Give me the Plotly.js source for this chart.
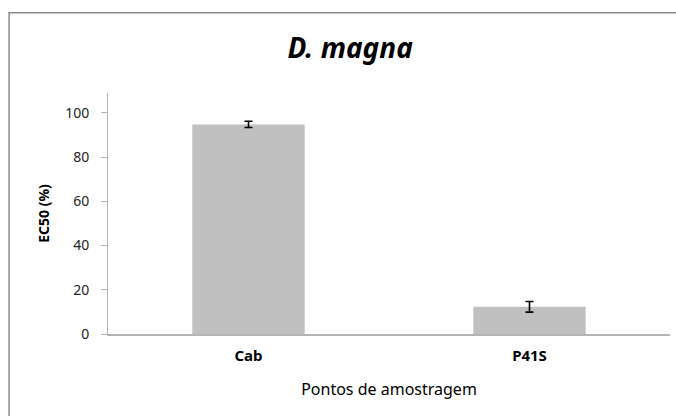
<!DOCTYPE html>
<html>
<head>
<meta charset="utf-8">
<script src="https://cdn.plot.ly/plotly-3.0.1.min.js"></script>
<style>
html,body{margin:0;padding:0;background:#fff;}
#chart{width:676px;height:416px;}
</style>
</head>
<body>
<div id="chart"></div>
<script>
const categories = ["Cab", "P41S"];
const ec50 = [94.8, 12.3];
const ec50Err = [1.4, 2.4];
const yTicks = [0, 20, 40, 60, 80, 100];

const trace = {
  type: "bar",
  x: categories,
  y: ec50,
  width: 0.4,
  marker: {color: "#c0c0c0", line: {width: 0}},
  error_y: {type: "data", array: ec50Err, visible: true, color: "#000000", thickness: 1.6, width: 4},
  hoverinfo: "none"
};

const font = "Noto Sans, Open Sans, sans-serif";
const layout = {
  width: 676, height: 416,
  margin: {l: 108, r: 6, t: 93, b: 82},
  paper_bgcolor: "#ffffff",
  plot_bgcolor: "#ffffff",
  showlegend: false,
  title: {text: "<b><i>D. magna</i></b>", font: {family: font, size: 28, color: "#000"}, x: 0.518, xanchor: "center", xref: "container", y: 0.883, yanchor: "middle"},
  xaxis: {
    showline: true, linecolor: "#b4b4b4", linewidth: 1.5,
    ticks: "", showgrid: false, zeroline: false,
    ticklabelstandoff: 7,
    tickfont: {family: font, size: 15, color: "#000"},
    tickvals: categories, ticktext: categories.map(c => "<b>" + c + "</b>"),
    title: {text: "Pontos de amostragem", font: {family: font, size: 16, color: "#000"}, standoff: 20}
  },
  yaxis: {
    range: [0, 109], showline: true, linecolor: "#b4b4b4", linewidth: 1,
    ticks: "outside", ticklen: 6, tickcolor: "#b4b4b4",
    ticklabelstandoff: 9,
    tickvals: yTicks, showgrid: false, zeroline: false,
    tickfont: {family: font, size: 14, color: "#222"},
    title: {text: "<b>EC50 (%)</b>", font: {family: font, size: 14, color: "#000"}, standoff: 12}
  },
  shapes: [{
    type: "rect", xref: "paper", yref: "paper",
    x0: -0.176, x1: 1.04, y0: -0.4, y1: 1.333,
    line: {color: "#8a8a8a", width: 1.5}, fillcolor: "rgba(0,0,0,0)", layer: "below"
  }]
};

Plotly.newPlot("chart", [trace], layout, {displayModeBar: false, staticPlot: true});
</script>
</body>
</html>
